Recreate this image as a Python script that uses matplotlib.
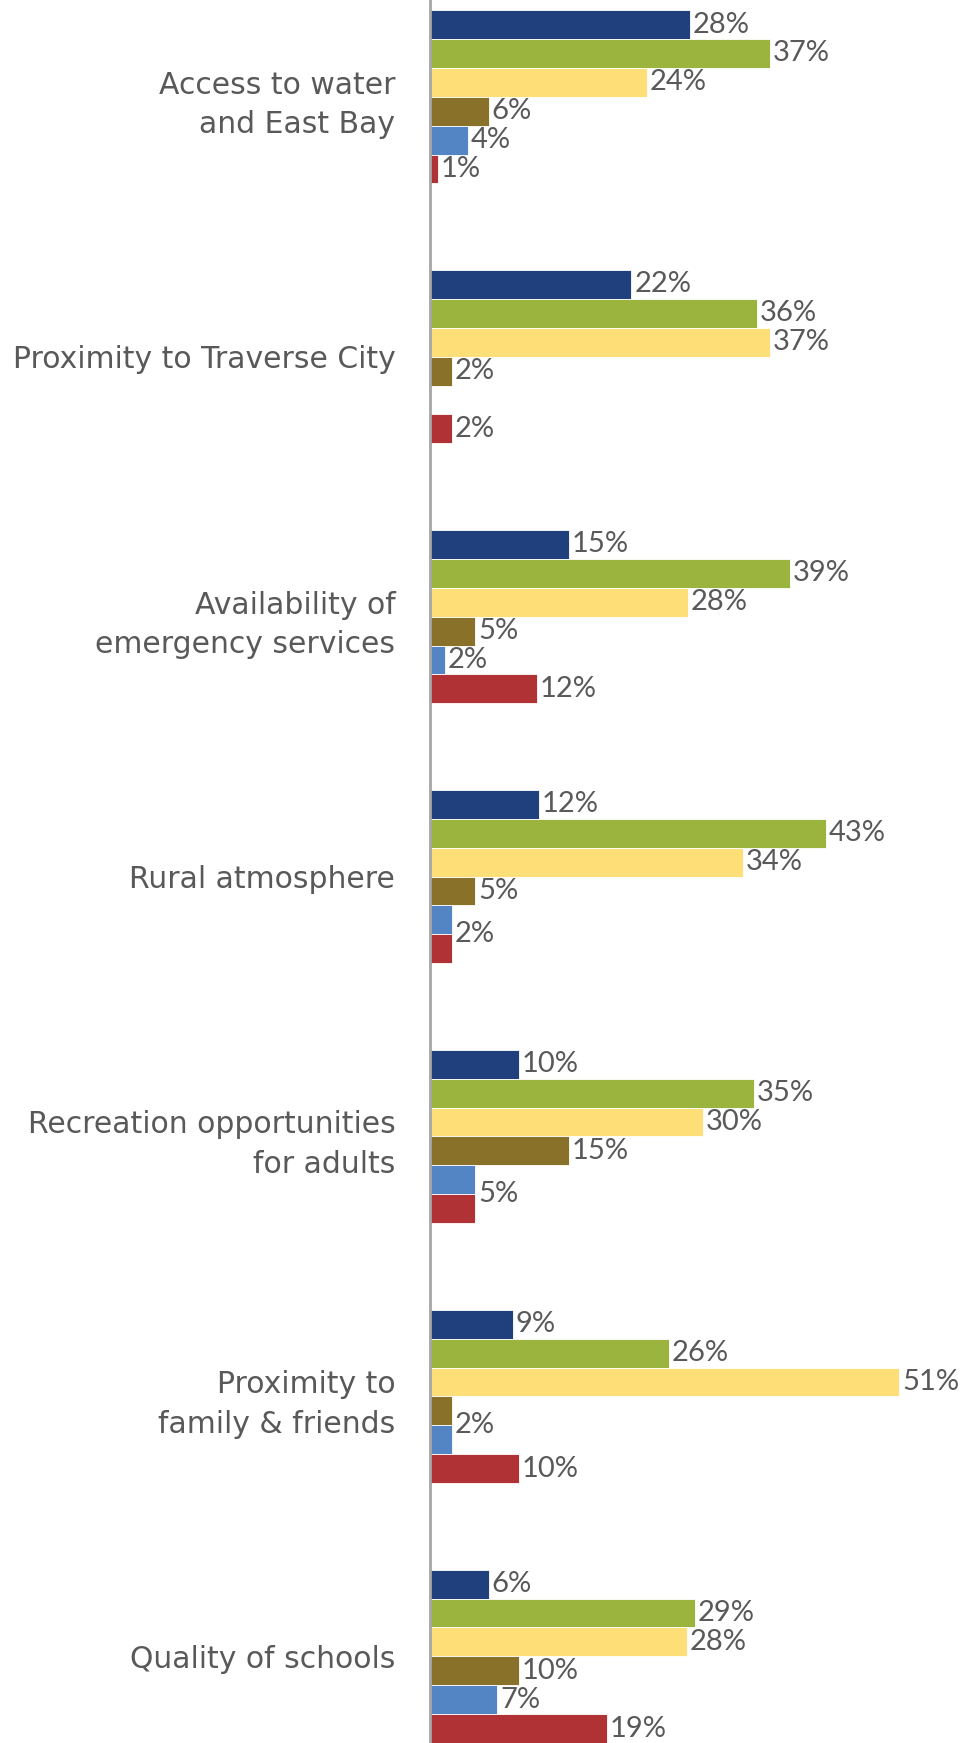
import matplotlib.pyplot as plt
import numpy as np

categories = [
    "Access to water\nand East Bay",
    "Proximity to Traverse City",
    "Availability of\nemergency services",
    "Rural atmosphere",
    "Recreation opportunities\nfor adults",
    "Proximity to\nfamily & friends",
    "Quality of schools",
]
s1 = [28.3, 21.9, 15.1, 11.8, 9.7, 9.0, 6.4]     # navy
s2 = [37.0, 35.5, 39.1, 43.0, 35.2, 26.0, 28.8]  # green
s3 = [23.6, 37.0, 28.0, 34.0, 29.7, 51.0, 27.9]  # yellow
s4 = [6.4, 2.4, 4.9, 4.9, 15.1, 2.4, 9.7]        # brown
s5 = [4.1, 0.0, 1.6, 2.4, 4.9, 2.4, 7.3]         # light blue
s6 = [0.9, 2.4, 11.6, 2.4, 4.9, 9.7, 19.2]       # red
series = [s1, s2, s3, s4, s5, s6]
colors = ["#203F7D", "#9BB43E", "#FDDE77", "#89712A", "#5385C5", "#B03234"]

TXT = "#595959"

fig = plt.figure(figsize=(9.62, 17.43), dpi=100)
ax = fig.add_axes([430 / 962, 0, 532 / 962, 1])

gap = 9  # slots per group
for j, (vals, col) in enumerate(zip(series, colors)):
    ys = np.arange(len(categories)) * gap + j
    ax.barh(ys, vals, height=1.0, color=col, edgecolor="white", linewidth=0.6)

# data labels; equal neighbours share one label placed between them (as excel did)
for i in range(len(categories)):
    skip = False
    for j in range(len(series)):
        if skip:
            skip = False
            continue
        v = series[j][i]
        if v == 0:
            continue
        y = i * gap + j
        lab = round(v)
        if j + 1 < len(series) and round(series[j + 1][i]) == lab:
            y += 0.5
            skip = True
        ax.text(v + 0.3, y, f"{lab}%", va="center", ha="left",
                fontsize=21, color=TXT, family=["Lato", "DejaVu Sans"])

ax.set_xlim(0, 532 / 9.2)
ax.set_ylim(59.5, -0.85)
ax.set_yticks(np.arange(len(categories)) * gap + 2.5)
ax.set_yticklabels(categories, fontsize=21.5, color=TXT, family=["DejaVu Sans"],
                   ha="right", linespacing=1.45)
ax.tick_params(axis="y", length=0, pad=25)
ax.set_xticks([])
for s in ["top", "right", "bottom"]:
    ax.spines[s].set_visible(False)
ax.spines["left"].set_color("#A6A6A6")
ax.spines["left"].set_linewidth(2)

fig.savefig("out.png", dpi=100)
